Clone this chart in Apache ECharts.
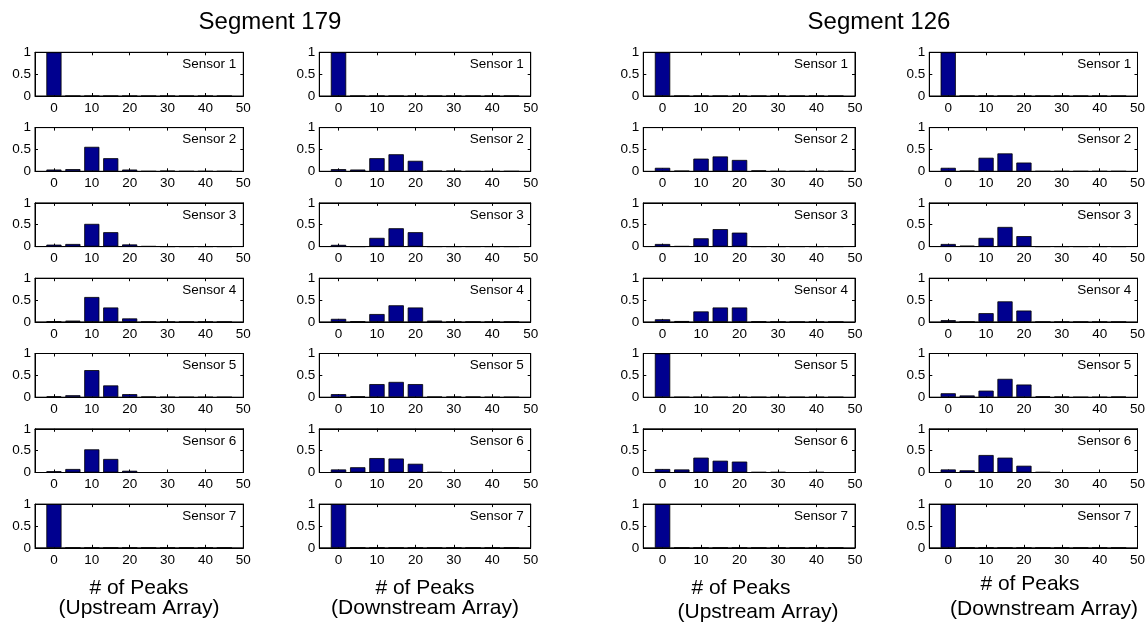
<!DOCTYPE html>
<html>
<head>
<meta charset="utf-8">
<script src="https://cdn.jsdelivr.net/npm/echarts@6/dist/echarts.min.js"></script>
<style>
  html, body { margin: 0; padding: 0; background: #fff; }
  #chart { width: 1148px; height: 623px; }
</style>
</head>
<body>
<div id="chart"></div>
<script>
// Histogram bin centres (# of peaks) and axis tick labels
const bins = [0, 5, 10, 15, 20, 25, 30, 35, 40, 45];
const xTicks = [0, 10, 20, 30, 40, 50];
const yTicks = [0, 0.5, 1];
const sensorNames = ['Sensor 1', 'Sensor 2', 'Sensor 3', 'Sensor 4', 'Sensor 5', 'Sensor 6', 'Sensor 7'];
const segmentTitles = ['Segment 179', 'Segment 126'];
const xLabelTop = '# of Peaks';
const xLabelBottom = ['(Upstream Array)', '(Downstream Array)', '(Upstream Array)', '(Downstream Array)'];

// Relative frequency per bin, one row per sensor
const seg179Up = [
  [1, 0, 0, 0, 0, 0, 0, 0, 0, 0],
  [0.04, 0.05, 0.56, 0.30, 0.04, 0, 0.01, 0, 0, 0],
  [0.045, 0.06, 0.52, 0.33, 0.05, 0.01, 0, 0, 0, 0],
  [0.01, 0.03, 0.57, 0.33, 0.08, 0, 0, 0, 0, 0],
  [0.02, 0.045, 0.62, 0.27, 0.07, 0.01, 0, 0, 0, 0],
  [0.03, 0.08, 0.53, 0.31, 0.04, 0, 0, 0, 0, 0],
  [1, 0, 0, 0, 0, 0, 0, 0, 0, 0]
];
const seg179Down = [
  [1, 0, 0, 0, 0, 0, 0, 0, 0, 0],
  [0.05, 0.04, 0.30, 0.39, 0.24, 0.01, 0.01, 0, 0, 0],
  [0.04, 0, 0.20, 0.42, 0.33, 0, 0, 0, 0, 0],
  [0.07, 0.01, 0.18, 0.38, 0.33, 0.03, 0, 0, 0, 0],
  [0.07, 0.02, 0.30, 0.35, 0.30, 0.01, 0.01, 0.01, 0, 0],
  [0.07, 0.12, 0.33, 0.32, 0.20, 0.01, 0, 0, 0, 0],
  [1, 0, 0, 0, 0, 0, 0, 0, 0, 0]
];
const seg126Up = [
  [1, 0, 0, 0, 0, 0, 0, 0, 0, 0],
  [0.08, 0.01, 0.29, 0.34, 0.26, 0.02, 0, 0, 0, 0],
  [0.06, 0.01, 0.19, 0.40, 0.32, 0, 0, 0, 0, 0],
  [0.06, 0.02, 0.24, 0.33, 0.33, 0.01, 0, 0, 0, 0],
  [1, 0, 0, 0, 0, 0, 0, 0, 0, 0],
  [0.08, 0.07, 0.34, 0.27, 0.25, 0.01, 0.01, 0, 0.01, 0],
  [1, 0, 0, 0, 0, 0, 0, 0, 0, 0]
];
const seg126Down = [
  [1, 0, 0, 0, 0, 0, 0, 0, 0, 0],
  [0.08, 0.01, 0.31, 0.41, 0.20, 0, 0, 0, 0, 0],
  [0.06, 0.02, 0.20, 0.45, 0.24, 0, 0, 0, 0, 0],
  [0.04, 0, 0.20, 0.47, 0.26, 0, 0, 0, 0, 0],
  [0.09, 0.04, 0.15, 0.42, 0.29, 0.02, 0.01, 0, 0, 0.01],
  [0.07, 0.05, 0.40, 0.34, 0.155, 0.01, 0, 0, 0, 0],
  [1, 0, 0, 0, 0, 0, 0, 0, 0, 0]
];

const columns = [seg179Up, seg179Down, seg126Up, seg126Down];

// Layout of the 4 x 7 panel grid (pixels)
const FONT = '"Liberation Sans", Arial, Helvetica, sans-serif';
const colLeft = [35, 319.3, 643.3, 929.3];
const colWidth = [208.3, 211.4, 211.7, 209];
const rowTop0 = 52.3, rowPitch = 75.3, rowHeight = 43.7;
const xMin = -5, xMax = 50, barSpan = 4;

const grid = [], xAxis = [], yAxis = [], series = [], graphic = [];

columns.forEach((col, c) => {
  col.forEach((vals, r) => {
    const gi = grid.length;
    const left = colLeft[c], top = rowTop0 + r * rowPitch, width = colWidth[c];
    grid.push({ left, top, width, height: rowHeight, show: true, borderColor: '#000', borderWidth: 1, containLabel: false });

    const tickStyle = { color: '#000', width: 1 };
    xAxis.push({
      gridIndex: gi, type: 'value', min: xMin, max: xMax, position: 'bottom',
      axisLine: { show: true, onZero: false, lineStyle: tickStyle },
      axisTick: { show: true, inside: true, length: 3, customValues: xTicks, lineStyle: tickStyle },
      axisLabel: { customValues: xTicks, margin: 5, color: '#000', fontSize: 13.5, fontFamily: FONT },
      splitLine: { show: false }
    });
    xAxis.push({
      gridIndex: gi, type: 'value', min: xMin, max: xMax, position: 'top',
      axisLine: { show: true, onZero: false, lineStyle: tickStyle },
      axisTick: { show: true, inside: true, length: 3, customValues: xTicks, lineStyle: tickStyle },
      axisLabel: { show: false },
      splitLine: { show: false }
    });
    yAxis.push({
      gridIndex: gi, type: 'value', min: 0, max: 1, position: 'left',
      axisLine: { show: true, onZero: false, lineStyle: tickStyle },
      axisTick: { show: true, inside: true, length: 3, customValues: yTicks, lineStyle: tickStyle },
      axisLabel: { customValues: yTicks, margin: 4, color: '#000', fontSize: 13.5, fontFamily: FONT },
      splitLine: { show: false }
    });
    yAxis.push({
      gridIndex: gi, type: 'value', min: 0, max: 1, position: 'right',
      axisLine: { show: true, onZero: false, lineStyle: tickStyle },
      axisTick: { show: true, inside: true, length: 3, customValues: yTicks, lineStyle: tickStyle },
      axisLabel: { show: false },
      splitLine: { show: false }
    });

    series.push({
      type: 'bar',
      xAxisIndex: gi * 2, yAxisIndex: gi * 2,
      data: bins.map((b, k) => [b, vals[k]]),
      barWidth: barSpan / (xMax - xMin) * width,
      itemStyle: { color: '#00008f', borderColor: '#000', borderWidth: 0.8 },
      silent: true
    });

    graphic.push({
      type: 'text', x: left + width - 7, y: top + 12,
      style: { text: sensorNames[r], align: 'right', verticalAlign: 'middle',
               fill: '#000', font: '13.5px ' + FONT }
    });
  });
});

// Segment titles
const titleX = [270, 879];
segmentTitles.forEach((t, i) => {
  graphic.push({
    type: 'text', x: titleX[i], y: 22.5,
    style: { text: t, align: 'center', verticalAlign: 'middle', fill: '#000', font: '24px ' + FONT }
  });
});

// Axis captions under each column
const cap1 = [[139, 588], [425, 588], [741, 588], [1030, 584]];
const cap2 = [[139, 608.7], [425, 608.7], [758, 612], [1044, 609.5]];
for (let c = 0; c < 4; c++) {
  graphic.push({
    type: 'text', x: cap1[c][0], y: cap1[c][1],
    style: { text: xLabelTop, align: 'center', verticalAlign: 'middle', fill: '#000', font: '21px ' + FONT }
  });
  graphic.push({
    type: 'text', x: cap2[c][0], y: cap2[c][1],
    style: { text: xLabelBottom[c], align: 'center', verticalAlign: 'middle', fill: '#000', font: '21px ' + FONT }
  });
}

const chart = echarts.init(document.getElementById('chart'), null, { renderer: 'canvas' });
chart.setOption({
  animation: false,
  backgroundColor: '#fff',
  grid, xAxis, yAxis, series, graphic
});
</script>
</body>
</html>
